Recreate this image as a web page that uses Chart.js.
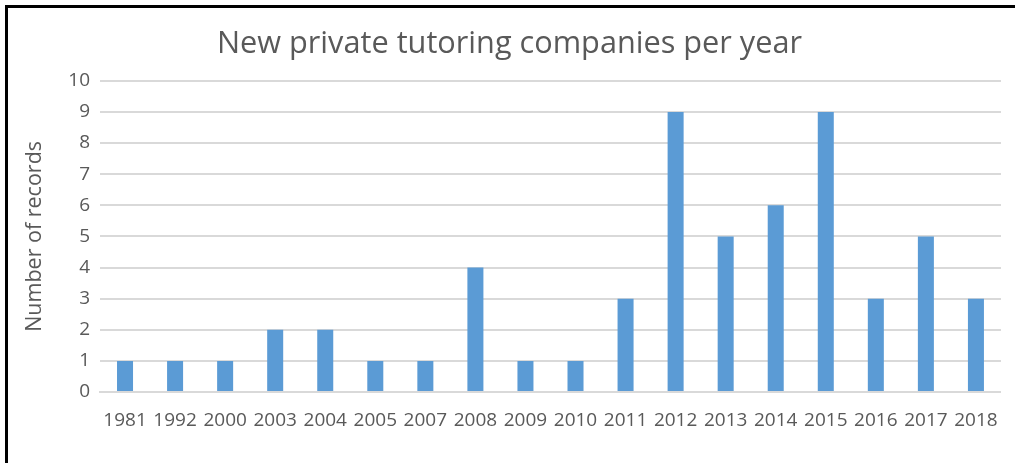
<!DOCTYPE html>
<html>
<head>
<meta charset="utf-8">
<script src="https://cdn.jsdelivr.net/npm/chart.js@4.4.0/dist/chart.umd.min.js"></script>
<style>
  html, body { margin: 0; padding: 0; background: #ffffff; }
  #wrap { position: absolute; left: 0; top: 0; width: 1015px; height: 463px; overflow: hidden; }
  #frame { position: absolute; left: 5px; top: 5px; width: 1030px; height: 480px; border-left: 3px solid #000; border-top: 3px solid #000; box-sizing: border-box; }
  canvas { position: absolute; left: 0; top: 0; }
</style>
</head>
<body>
<div id="wrap">
  <div id="frame"></div>
  <canvas id="c" width="1015" height="463"></canvas>
</div>
<script>
const titleText = 'New private tutoring companies per year';
const yAxisTitle = 'Number of records';
const years = ['1981','1992','2000','2003','2004','2005','2007','2008','2009','2010','2011','2012','2013','2014','2015','2016','2017','2018'];
const records = [1,1,1,2,2,1,1,4,1,1,3,9,5,6,9,3,5,3];
const yTicks = [0,1,2,3,4,5,6,7,8,9,10];

const FONT = "'Open Sans', 'Noto Sans', sans-serif";
const GREY = '#595959';

new Chart(document.getElementById('c'), {
  type: 'bar',
  data: {
    labels: years,
    datasets: [{
      data: records,
      backgroundColor: '#5b9bd5',
      borderWidth: 0,
      barPercentage: 0.32,
      categoryPercentage: 1.0
    }]
  },
  options: {
    responsive: false,
    animation: false,
    devicePixelRatio: 1,
    layout: { padding: { left: 16, right: 12, top: 0, bottom: 0 } },
    plugins: {
      legend: { display: false },
      tooltip: { enabled: false },
      title: {
        display: true,
        text: titleText,
        color: GREY,
        font: { family: FONT, size: 30.7, weight: 'normal', lineHeight: 1.2 },
        padding: { top: 26, bottom: 18 }
      }
    },
    scales: {
      x: {
        grid: { display: false, drawTicks: false },
        border: { display: true, color: '#d9d9d9', width: 2 },
        ticks: { color: GREY, font: { family: FONT, size: 19 }, padding: 17, maxRotation: 0, autoSkip: false },
        afterFit: (s) => { s.height = 463 - 392; }
      },
      y: {
        min: 0, max: 10,
        afterBuildTicks: (s) => { s.ticks = yTicks.map(v => ({ value: v })); },
        grid: { color: '#d9d9d9', lineWidth: 2, drawTicks: false },
        border: { display: false },
        ticks: { color: GREY, font: { family: FONT, size: 19 }, padding: 10 },
        title: {
          display: true,
          text: yAxisTitle,
          color: GREY,
          font: { family: FONT, size: 21.5, weight: 'normal', lineHeight: 1.2 },
          padding: { top: 6, bottom: 0 }
        },
        afterFit: (s) => { s.width = 84; }
      }
    }
  }
});
</script>
</body>
</html>
